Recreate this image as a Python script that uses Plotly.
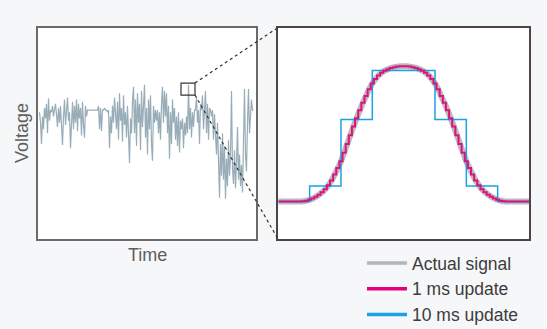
import plotly.graph_objects as go

W, H = 547, 329

# ---- Left panel: raw noisy voltage (arbitrary units 0-100), one sample per step ----
raw_voltage = [
    60, 55, 45, 58, 52, 62, 57, 64, 50, 66.5,
    56, 61, 60, 63, 58, 61, 64, 59,
    53, 62, 55, 63, 52, 44.5, 58, 66, 54, 62, 67, 56, 60, 43,
    58, 65, 52, 63, 55, 66, 51, 64, 57, 62, 49, 65, 54, 48, 63, 58, 61,
    61, 61, 61, 61, 61, 61, 61, 61, 61, 61,
    63, 52, 62, 51, 61,
    61, 62, 61, 61, 60, 61,
    43, 58, 50, 63, 55, 67, 60,
    52, 65, 47, 69, 56, 62, 46, 68, 54,
    60, 48, 63, 52, 36, 57, 50, 65,
    72, 50, 66, 44, 69, 55, 64, 42, 70, 53, 67, 73, 48, 62, 40, 66,
    52, 68, 45, 37, 63, 55,
    61, 56, 61, 50, 60, 47,
    64, 72, 55, 70, 58,
    69, 50, 63, 38, 60, 45, 66,
    55, 62, 47, 58, 44, 60, 41, 56,
    52, 57, 43, 55, 49,
    58, 50, 73, 52, 62, 48, 60, 53, 61,
    61, 67, 55, 61, 45, 64, 61, 68, 52,
    60, 70, 50, 64, 47, 62,
    61, 58, 61, 47, 59,
    52, 40, 55, 35, 19.5, 45, 30, 50,
    28, 44, 19, 38, 25, 47, 30, 40, 70, 33,
    26, 42, 24, 36, 53, 28, 40, 25,
    35, 22, 45, 71,
    40, 32, 55, 71, 50,
    62, 66, 61, 61,
]
raw_time = list(range(len(raw_voltage)))

# ---- Right panel: zoomed-in pulse (time in ms, normalised amplitude) ----
zoom_time_ms = list(range(0, 81))
actual_signal = [
    0, 0, 0, 0, 0, 0, 0, 0,
    0.002, 0.006, 0.013, 0.022, 0.035, 0.05, 0.068, 0.09, 0.12, 0.155,
    0.2, 0.247, 0.297, 0.36, 0.425, 0.49, 0.555, 0.616, 0.675, 0.73,
    0.78, 0.83, 0.872, 0.905, 0.932, 0.952, 0.967, 0.978, 0.987, 0.993,
    0.997, 0.999, 1.0,
    0.999, 0.997, 0.993, 0.987, 0.978, 0.967, 0.952, 0.932, 0.905, 0.872,
    0.83, 0.78, 0.73, 0.675, 0.616, 0.555, 0.49, 0.425, 0.36, 0.297,
    0.247, 0.2, 0.155, 0.12, 0.09, 0.068, 0.05, 0.035, 0.022, 0.013,
    0.006, 0.002,
    0, 0, 0, 0, 0, 0, 0, 0,
]
update_1ms = actual_signal
update_10ms_time = [0, 10, 20, 30, 40, 50, 60, 70, 80]
update_10ms = [0, 0.114, 0.607, 0.968, 0.968, 0.607, 0.114, 0, 0]

legend_names = ["Actual signal", "1 ms update", "10 ms update"]

GREY = "#b5b5b5"
MAGENTA = "#e5007d"
BLUE = "#1aa3e3"
BG = "#f6f7f9"


def px(x):
    return x / W


def py(y):
    return 1 - y / H


fig = go.Figure()

fig.add_trace(go.Scatter(
    x=raw_time, y=raw_voltage, mode="lines",
    line=dict(color="#98adb8", width=1.2), xaxis="x", yaxis="y",
    showlegend=False, hoverinfo="skip"))

fig.add_trace(go.Scatter(
    x=zoom_time_ms, y=actual_signal, mode="lines",
    line=dict(color="rgba(175,175,175,0.85)", width=6, shape="spline"),
    xaxis="x2", yaxis="y2", showlegend=False))
fig.add_trace(go.Scatter(
    x=update_10ms_time, y=update_10ms, mode="lines",
    line=dict(color=BLUE, width=1.5, shape="hv"),
    xaxis="x2", yaxis="y2", showlegend=False))
fig.add_trace(go.Scatter(
    x=zoom_time_ms, y=update_1ms, mode="lines",
    line=dict(color=MAGENTA, width=2, shape="hvh"), opacity=0.9,
    xaxis="x2", yaxis="y2", showlegend=False))

# legend entries
for name, col in zip(legend_names, [GREY, MAGENTA, BLUE]):
    fig.add_trace(go.Scatter(
        x=[None], y=[None], mode="lines", name=name,
        line=dict(color=col, width=3.5), xaxis="x2", yaxis="y2"))

axis_common = dict(showticklabels=False, showgrid=False, zeroline=False,
                   ticks="", showline=True, mirror=True, fixedrange=True)

fig.update_layout(
    width=W, height=H, autosize=False,
    margin=dict(l=0, r=0, t=0, b=0, autoexpand=False),
    paper_bgcolor=BG, plot_bgcolor="white",
    font=dict(family="Liberation Sans, Arial, sans-serif", color="#444"),
    xaxis=dict(domain=[px(38), px(256)], range=[-1.5, 216.5],
               linecolor="#6e6866", linewidth=1.5, **axis_common),
    yaxis=dict(domain=[py(239), py(27.7)], range=[0, 100],
               linecolor="#6e6866", linewidth=1.5, **axis_common),
    xaxis2=dict(domain=[px(278.3), px(529)], range=[0, 80], anchor="y2",
                linecolor="#4d4545", linewidth=1.5, **axis_common),
    yaxis2=dict(domain=[py(239), py(27.5)], range=[-0.277, 1.286], anchor="x2",
                linecolor="#4d4545", linewidth=1.5, **axis_common),
    legend=dict(x=px(362), y=py(245), xanchor="left", yanchor="top",
                bgcolor="rgba(0,0,0,0)", font=dict(size=17.5, color="#3c3c3c"),
                tracegroupgap=0, itemwidth=40),
    showlegend=True,
)

# zoom box on left panel + dotted connectors
fig.add_shape(type="rect", xref="x", yref="y",
              x0=141.5, x1=155.5, y0=68.1, y1=73.8,
              line=dict(color="#3b3333", width=1.2))
fig.add_shape(type="line", xref="paper", yref="paper",
              x0=px(195), y0=py(83), x1=px(278), y1=py(27.5),
              line=dict(color="#333333", width=1.2, dash="dot"))
fig.add_shape(type="line", xref="paper", yref="paper",
              x0=px(195), y0=py(95), x1=px(278), y1=py(239),
              line=dict(color="#333333", width=1.2, dash="dot"))

fig.add_annotation(text="Voltage", xref="paper", yref="paper",
                   x=px(22), y=py(133), textangle=-90, showarrow=False,
                   xanchor="center", yanchor="middle",
                   font=dict(size=18, color="#5e5e5e"))
fig.add_annotation(text="Time", xref="paper", yref="paper",
                   x=px(147), y=py(255), showarrow=False,
                   xanchor="center", yanchor="middle",
                   font=dict(size=18, color="#5e5e5e"))

fig.write_html("out.html",
               config={"responsive": False, "displayModeBar": False},
               default_width=f"{W}px", default_height=f"{H}px",
               post_script="document.body.style.margin='0px';document.body.style.overflow='hidden';")
